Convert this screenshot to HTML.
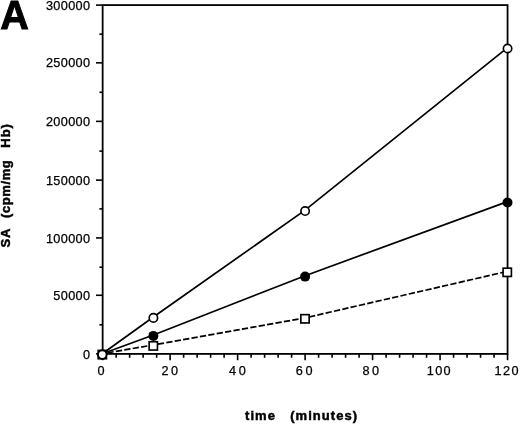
<!DOCTYPE html>
<html><head><meta charset="utf-8"><title>A</title>
<style>
html,body{margin:0;padding:0;background:#fff;}
body{width:520px;height:424px;overflow:hidden;}
svg{display:block;}
text{font-family:"Liberation Sans",sans-serif;fill:#000;}
.n{font-size:12.7px;stroke:#000;stroke-width:0.25px;}
.b{font-size:12px;font-weight:bold;letter-spacing:0.95px;stroke:#000;stroke-width:0.45px;}
</style></head><body>
<svg width="520" height="424" viewBox="0 0 520 424">
<rect width="520" height="424" fill="#fff"/>
<rect x="102.65" y="5.1" width="404.90" height="348.80" fill="none" stroke="#000" stroke-width="1.8"/>
<line x1="96.0" x2="102.65" y1="353.90" y2="353.90" stroke="#000" stroke-width="1.6"/>
<text class="n" x="90.4" y="358.50" text-anchor="end" letter-spacing="0.35">0</text>
<line x1="99.4" x2="102.65" y1="324.83" y2="324.83" stroke="#000" stroke-width="1.6"/>
<line x1="96.0" x2="102.65" y1="295.27" y2="295.27" stroke="#000" stroke-width="1.6"/>
<text class="n" x="90.4" y="299.87" text-anchor="end" letter-spacing="0.35">50000</text>
<line x1="99.4" x2="102.65" y1="267.20" y2="267.20" stroke="#000" stroke-width="1.6"/>
<line x1="96.0" x2="102.65" y1="237.93" y2="237.93" stroke="#000" stroke-width="1.6"/>
<text class="n" x="90.4" y="242.53" text-anchor="end" letter-spacing="0.35">100000</text>
<line x1="99.4" x2="102.65" y1="208.87" y2="208.87" stroke="#000" stroke-width="1.6"/>
<line x1="96.0" x2="102.65" y1="180.10" y2="180.10" stroke="#000" stroke-width="1.6"/>
<text class="n" x="90.4" y="184.70" text-anchor="end" letter-spacing="0.35">150000</text>
<line x1="99.4" x2="102.65" y1="151.13" y2="151.13" stroke="#000" stroke-width="1.6"/>
<line x1="96.0" x2="102.65" y1="121.37" y2="121.37" stroke="#000" stroke-width="1.6"/>
<text class="n" x="90.4" y="125.97" text-anchor="end" letter-spacing="0.35">200000</text>
<line x1="99.4" x2="102.65" y1="92.30" y2="92.30" stroke="#000" stroke-width="1.6"/>
<line x1="96.0" x2="102.65" y1="62.83" y2="62.83" stroke="#000" stroke-width="1.6"/>
<text class="n" x="90.4" y="67.43" text-anchor="end" letter-spacing="0.35">250000</text>
<line x1="99.4" x2="102.65" y1="34.17" y2="34.17" stroke="#000" stroke-width="1.6"/>
<line x1="96.0" x2="102.65" y1="5.10" y2="5.10" stroke="#000" stroke-width="1.6"/>
<text class="n" x="90.4" y="9.70" text-anchor="end" letter-spacing="0.35">300000</text>
<line x1="102.65" x2="102.65" y1="353.9" y2="360.2" stroke="#000" stroke-width="1.6"/>
<text class="n" x="97.40" y="375.3" letter-spacing="2.6">0</text>
<line x1="116.15" x2="116.15" y1="353.9" y2="357.8" stroke="#000" stroke-width="1.6"/>
<line x1="129.64" x2="129.64" y1="353.9" y2="357.8" stroke="#000" stroke-width="1.6"/>
<line x1="143.14" x2="143.14" y1="353.9" y2="357.8" stroke="#000" stroke-width="1.6"/>
<line x1="156.64" x2="156.64" y1="353.9" y2="357.8" stroke="#000" stroke-width="1.6"/>
<line x1="170.13" x2="170.13" y1="353.9" y2="360.2" stroke="#000" stroke-width="1.6"/>
<text class="n" x="161.40" y="375.3" letter-spacing="2.6">20</text>
<line x1="183.63" x2="183.63" y1="353.9" y2="357.8" stroke="#000" stroke-width="1.6"/>
<line x1="197.13" x2="197.13" y1="353.9" y2="357.8" stroke="#000" stroke-width="1.6"/>
<line x1="210.62" x2="210.62" y1="353.9" y2="357.8" stroke="#000" stroke-width="1.6"/>
<line x1="224.12" x2="224.12" y1="353.9" y2="357.8" stroke="#000" stroke-width="1.6"/>
<line x1="237.62" x2="237.62" y1="353.9" y2="360.2" stroke="#000" stroke-width="1.6"/>
<text class="n" x="229.00" y="375.3" letter-spacing="2.6">40</text>
<line x1="251.11" x2="251.11" y1="353.9" y2="357.8" stroke="#000" stroke-width="1.6"/>
<line x1="264.61" x2="264.61" y1="353.9" y2="357.8" stroke="#000" stroke-width="1.6"/>
<line x1="278.11" x2="278.11" y1="353.9" y2="357.8" stroke="#000" stroke-width="1.6"/>
<line x1="291.60" x2="291.60" y1="353.9" y2="357.8" stroke="#000" stroke-width="1.6"/>
<line x1="305.10" x2="305.10" y1="353.9" y2="360.2" stroke="#000" stroke-width="1.6"/>
<text class="n" x="295.80" y="375.3" letter-spacing="2.6">60</text>
<line x1="318.60" x2="318.60" y1="353.9" y2="357.8" stroke="#000" stroke-width="1.6"/>
<line x1="332.09" x2="332.09" y1="353.9" y2="357.8" stroke="#000" stroke-width="1.6"/>
<line x1="345.59" x2="345.59" y1="353.9" y2="357.8" stroke="#000" stroke-width="1.6"/>
<line x1="359.09" x2="359.09" y1="353.9" y2="357.8" stroke="#000" stroke-width="1.6"/>
<line x1="372.58" x2="372.58" y1="353.9" y2="360.2" stroke="#000" stroke-width="1.6"/>
<text class="n" x="362.40" y="375.3" letter-spacing="2.6">80</text>
<line x1="386.08" x2="386.08" y1="353.9" y2="357.8" stroke="#000" stroke-width="1.6"/>
<line x1="399.58" x2="399.58" y1="353.9" y2="357.8" stroke="#000" stroke-width="1.6"/>
<line x1="413.07" x2="413.07" y1="353.9" y2="357.8" stroke="#000" stroke-width="1.6"/>
<line x1="426.57" x2="426.57" y1="353.9" y2="357.8" stroke="#000" stroke-width="1.6"/>
<line x1="440.07" x2="440.07" y1="353.9" y2="360.2" stroke="#000" stroke-width="1.6"/>
<text class="n" x="426.70" y="375.3" letter-spacing="1.4">100</text>
<line x1="453.56" x2="453.56" y1="353.9" y2="357.8" stroke="#000" stroke-width="1.6"/>
<line x1="467.06" x2="467.06" y1="353.9" y2="357.8" stroke="#000" stroke-width="1.6"/>
<line x1="480.56" x2="480.56" y1="353.9" y2="357.8" stroke="#000" stroke-width="1.6"/>
<line x1="494.05" x2="494.05" y1="353.9" y2="357.8" stroke="#000" stroke-width="1.6"/>
<line x1="507.55" x2="507.55" y1="353.9" y2="360.2" stroke="#000" stroke-width="1.6"/>
<text class="n" x="494.60" y="375.3" letter-spacing="1.4">120</text>
<polyline points="102.30,353.70 153.30,345.00 305.00,317.90 507.25,271.40" fill="none" stroke="#000" stroke-width="1.7" stroke-dasharray="6.3 2.23" stroke-dashoffset="3.3"/>
<polyline points="102.30,353.70 153.40,335.00 305.10,275.70 507.50,201.60" fill="none" stroke="#000" stroke-width="1.7"/>
<polyline points="102.30,353.70 153.40,317.00 305.10,210.10 507.55,47.60" fill="none" stroke="#000" stroke-width="1.7"/>
<rect x="98.15" y="350.45" width="8.3" height="8.3" fill="#fff" stroke="#000" stroke-width="1.65"/>
<rect x="149.15" y="341.75" width="8.3" height="8.3" fill="#fff" stroke="#000" stroke-width="1.65"/>
<rect x="300.85" y="314.65" width="8.3" height="8.3" fill="#fff" stroke="#000" stroke-width="1.65"/>
<rect x="503.10" y="268.15" width="8.3" height="8.3" fill="#fff" stroke="#000" stroke-width="1.65"/>
<circle cx="102.30" cy="354.60" r="5.0" fill="#000"/>
<circle cx="153.40" cy="335.90" r="5.0" fill="#000"/>
<circle cx="305.10" cy="276.60" r="5.0" fill="#000"/>
<circle cx="507.50" cy="202.50" r="5.0" fill="#000"/>
<circle cx="102.30" cy="354.60" r="4.2" fill="#fff" stroke="#000" stroke-width="1.65"/>
<circle cx="153.40" cy="317.90" r="4.2" fill="#fff" stroke="#000" stroke-width="1.65"/>
<circle cx="305.10" cy="211.00" r="4.2" fill="#fff" stroke="#000" stroke-width="1.65"/>
<circle cx="507.55" cy="48.50" r="4.2" fill="#fff" stroke="#000" stroke-width="1.65"/>
<text transform="translate(0.3,28.6) scale(1.04,1.06)" font-size="38" font-weight="bold" stroke="#000" stroke-width="0.9">A</text>
<text class="b" transform="translate(245,420.2) scale(1.083,1)" style="letter-spacing:0.97px"><tspan x="0">time</tspan> <tspan x="41.74">(minutes)</tspan></text>
<text class="b" transform="translate(10.3,247.5) rotate(-90) scale(1.083,1)" style="letter-spacing:0.88px"><tspan x="0">SA</tspan> <tspan x="27.33" style="letter-spacing:0.55px">(cpm/mg</tspan> <tspan x="92.15">Hb)</tspan></text>
</svg>
</body></html>
